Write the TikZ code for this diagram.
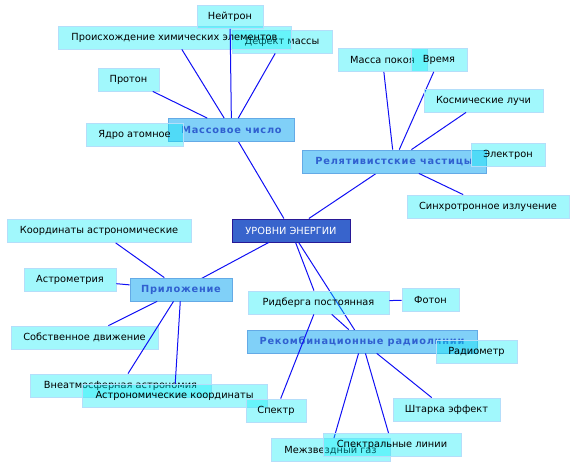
\documentclass[tikz,border=0pt]{standalone}
\usepackage{fontspec}
\setmainfont{DejaVu Sans}
\newfontfamily\catfont[LetterSpace=8]{DejaVu Sans}
\definecolor{linkblue}{RGB}{16,16,244}
\definecolor{leaffill}{RGB}{0,236,246}
\definecolor{leafline}{RGB}{180,222,250}
\definecolor{catfill}{RGB}{128,208,248}
\definecolor{catline}{RGB}{100,170,230}
\definecolor{cattext}{RGB}{48,96,208}
\definecolor{corefill}{RGB}{56,100,204}
\definecolor{coreline}{RGB}{40,24,150}

\begin{document}
\begin{tikzpicture}[x=1pt,y=-1pt,
  link/.style={draw=linkblue,line width=1pt},
  box/.style={rectangle,inner sep=0pt,minimum height=23pt,font=\fontsize{9.8}{11}\selectfont},
  leaf/.style={box,fill=leaffill,fill opacity=0.37,text opacity=1,draw=leafline,draw opacity=1,line width=0.8pt},
  cat/.style={box,fill=catfill,draw=catline,line width=0.8pt,text=cattext,font=\catfont\fontsize{9.8}{11}\selectfont\bfseries},
  core/.style={box,fill=corefill,draw=coreline,line width=1pt,text=white}]
\useasboundingbox (0,0) rectangle (576,468);
\node[core,minimum width=118pt] (energy) at (291,230.5) {УРОВНИ ЭНЕРГИИ};
% categories round the centre
\foreach \nm/\x/\y/\w/\txt in {mass/231.5/130/126/{Массовое число},rel/394/161.5/184/{Релятивистские частицы},
  app/181/289.5/102/{Приложение},rec/362/341.5/230/{Рекомбинационные радиолинии}} {
  \draw[link] (energy) -- (\x,\y);
  \node[cat,minimum width=\w pt] (\nm) at (\x,\y) {\txt};}
% leaves with their links
\foreach \nm/\up/\x/\y/\w/\txt in {defect/mass/282/41.5/100/{Дефект массы},origin/mass/174.5/37.5/233/{Происхождение химических элементов},
  neutron/mass/230/17/66/{Нейтрон},proton/mass/128.5/79.5/61/{Протон},
  rest/rel/382.5/60/89/{Масса покоя},time/rel/439/60/56/{Время},cosmic/rel/483.5/100.5/119/{Космические лучи},
  synch/rel/488/206.5/162/{Синхротронное излучение},
  coords/app/99/231/184/{Координаты астрономические},astrom/app/70/279.5/92/{Астрометрия},
  proper/app/84.5/337.5/147/{Собственное движение},extra/app/120.5/385.5/181/{Внеатмосферная астрономия},
  astcoord/app/174.5/395.5/185/{Астрономические координаты},
  rydberg/energy/318.5/302.5/141/{Ридберга постоянная},photon/rydberg/430.5/299.5/57/{Фотон},
  spectrum/rydberg/276/410.5/60/{Спектр},stark/rec/446.5/409.5/107/{Штарка эффект},
  ism/rec/330.5/450/119/{Межзвездный газ},lines/rec/392/445/138/{Спектральные линии}} {
  \node[leaf,minimum width=\w pt] (\nm) at (\x,\y) {\txt};
  \draw[link] (\nm) -- (\up);}
\draw[link] (rydberg) -- (rec);
% leaves lying on their parent
\node[leaf,minimum width=97pt] (nucleus) at (134.5,135) {Ядро атомное};
\node[leaf,minimum width=74pt] (electron) at (508,155) {Электрон};
\node[leaf,minimum width=81pt] (radiometer) at (476.5,351.5) {Радиометр};
\end{tikzpicture}
\end{document}
